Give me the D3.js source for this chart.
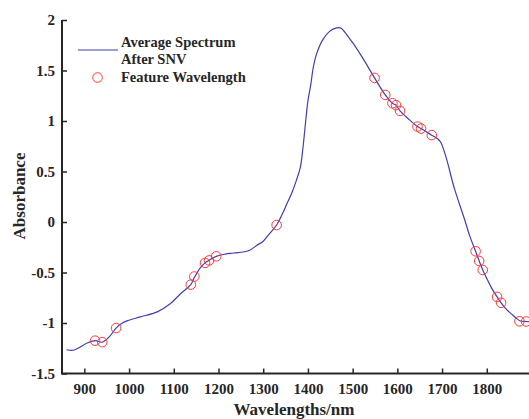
<!DOCTYPE html>
<html><head><meta charset="utf-8">
<script src="https://cdn.jsdelivr.net/npm/d3@7/dist/d3.min.js"></script>
<style>
body{margin:0;background:#fff;}
text{font-family:"Liberation Serif","Times New Roman",serif;font-weight:bold;fill:#262626;}
</style></head>
<body>
<svg id="chart" width="529" height="419"></svg>
<script>
const wavelengths = [860,875,890,905,924,940,955,971,985,998,1025,1063,1092,1115,1138,1146,1160,1170,1179,1195,1215,1234,1267,1286,1300,1315,1330,1346,1352,1365,1374,1383,1389,1395,1400,1406,1412,1419,1434,1449,1462,1468,1475,1494,1500,1522,1549,1573,1589,1597,1606,1625,1645,1653,1677,1690,1697,1709,1727,1750,1762,1775,1783,1791,1800,1810,1823,1832,1845,1855,1865,1875,1888,1900];
const absorbance = [-1.265,-1.27,-1.24,-1.2,-1.175,-1.19,-1.14,-1.05,-1.0,-0.975,-0.94,-0.89,-0.81,-0.71,-0.62,-0.55,-0.45,-0.405,-0.38,-0.34,-0.318,-0.307,-0.285,-0.23,-0.19,-0.11,-0.03,0.11,0.17,0.30,0.41,0.54,0.74,1.0,1.2,1.35,1.53,1.66,1.81,1.89,1.92,1.924,1.915,1.81,1.776,1.627,1.427,1.258,1.176,1.157,1.10,1.02,0.945,0.925,0.86,0.825,0.79,0.64,0.34,0.03,-0.14,-0.29,-0.386,-0.475,-0.56,-0.647,-0.742,-0.80,-0.87,-0.91,-0.95,-0.98,-0.985,-0.99];
const featureWavelengths = [924,940,971,1138,1146,1170,1179,1195,1330,1549,1573,1589,1597,1606,1645,1653,1677,1775,1783,1791,1823,1832,1873,1888];
const featureValues = [-1.175,-1.19,-1.05,-0.62,-0.54,-0.405,-0.38,-0.34,-0.03,1.427,1.258,1.176,1.157,1.10,0.945,0.925,0.86,-0.29,-0.386,-0.475,-0.742,-0.80,-0.983,-0.985];
const xTicks = [900,1000,1100,1200,1300,1400,1500,1600,1700,1800];
const yTicks = [-1.5,-1,-0.5,0,0.5,1,1.5,2];
const legendLabels = ["Average Spectrum","After SNV","Feature Wavelength"];

const svg = d3.select("#chart");
const x = d3.scaleLinear().domain([850,1900]).range([62,531.5]);
const y = d3.scaleLinear().domain([-1.5,2]).range([373.5,20]);
const axisColor = "#262626";

svg.append("defs").append("clipPath").attr("id","clip")
  .append("rect").attr("x",62).attr("y",0).attr("width",470).attr("height",374);

const line = d3.line().x((d,i)=>x(wavelengths[i])).y((d,i)=>y(absorbance[i])).curve(d3.curveCatmullRom.alpha(0.5));
svg.append("path").datum(absorbance).attr("d",line).attr("fill","none")
  .attr("stroke","#3f3fb0").attr("stroke-width",1.2).attr("clip-path","url(#clip)");

svg.append("g").attr("clip-path","url(#clip)").selectAll("circle").data(featureValues).join("circle")
  .attr("cx",(d,i)=>x(featureWavelengths[i])).attr("cy",d=>y(d)).attr("r",4.8)
  .attr("fill","none").attr("stroke","#ff3b3b").attr("stroke-width",1);

// axes
const xAxis = d3.axisBottom(x).tickValues(xTicks).tickSizeInner(-5).tickSizeOuter(0).tickPadding(10).tickFormat(d3.format("d"));
const gx = svg.append("g").attr("transform","translate(0,373.5)").call(xAxis);
const yAxis = d3.axisLeft(y).tickValues(yTicks).tickSizeInner(-5).tickSizeOuter(0).tickPadding(7).tickFormat(d=>String(d));
const gy = svg.append("g").attr("transform","translate(62,0)").call(yAxis);
[gx,gy].forEach(g=>{
  g.select(".domain").attr("stroke",axisColor).attr("stroke-width",2);
  g.selectAll(".tick line").attr("stroke",axisColor).attr("stroke-width",1.5);
  g.selectAll(".tick text").style("font-family","'Liberation Serif',serif").style("font-weight","bold").style("font-size","15px").attr("fill",axisColor);
});
gx.select(".domain").attr("d","M62,0H531");
gy.select(".domain").attr("d","M0,20V374.5");

svg.append("text").attr("x",294).attr("y",415).attr("text-anchor","middle").style("font-size","17px").text("Wavelengths/nm");
svg.append("text").attr("transform","translate(25,196) rotate(-90)").attr("text-anchor","middle").style("font-size","17px").text("Absorbance");

// legend
const lg = svg.append("g");
lg.append("line").attr("x1",78).attr("x2",118).attr("y1",50).attr("y2",50).attr("stroke","#3f3fb0").attr("stroke-width",1.2);
lg.append("circle").attr("cx",97.5).attr("cy",77.5).attr("r",4.8).attr("fill","none").attr("stroke","#ff3b3b").attr("stroke-width",1);
lg.append("text").attr("x",121).attr("y",47).style("font-size","14.5px").text(legendLabels[0]);
lg.append("text").attr("x",121).attr("y",63.5).style("font-size","14.5px").text(legendLabels[1]);
lg.append("text").attr("x",121).attr("y",82).style("font-size","14.5px").text(legendLabels[2]);
</script>
</body></html>
